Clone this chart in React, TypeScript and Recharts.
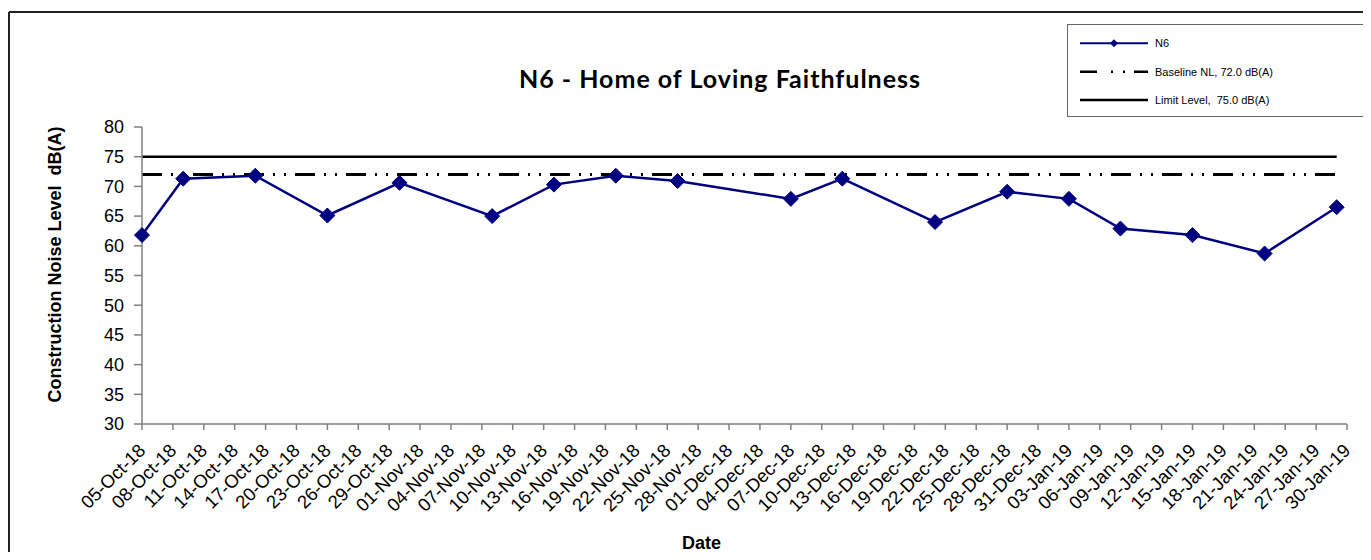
import { LineChart, Line, XAxis, YAxis } from "recharts";

// measurement dates and levels, dB(A)
const MEASURE_DATES = [
  "2018-10-05", "2018-10-09", "2018-10-16", "2018-10-23", "2018-10-30",
  "2018-11-08", "2018-11-14", "2018-11-20", "2018-11-26", "2018-12-07",
  "2018-12-12", "2018-12-21", "2018-12-28", "2019-01-03", "2019-01-08",
  "2019-01-15", "2019-01-22", "2019-01-29",
];
const N6_LEVELS = [
  61.8, 71.3, 71.8, 65.1, 70.6, 65.0, 70.3, 71.8, 70.9, 67.9,
  71.3, 64.0, 69.1, 67.9, 62.9, 61.8, 58.7, 66.5,
];
const BASELINE_LEVEL = 72.0;
const LIMIT_LEVEL = 75.0;

const X_TICK_DATES = [
  "2018-10-05", "2018-10-08", "2018-10-11", "2018-10-14", "2018-10-17",
  "2018-10-20", "2018-10-23", "2018-10-26", "2018-10-29", "2018-11-01",
  "2018-11-04", "2018-11-07", "2018-11-10", "2018-11-13", "2018-11-16",
  "2018-11-19", "2018-11-22", "2018-11-25", "2018-11-28", "2018-12-01",
  "2018-12-04", "2018-12-07", "2018-12-10", "2018-12-13", "2018-12-16",
  "2018-12-19", "2018-12-22", "2018-12-25", "2018-12-28", "2018-12-31",
  "2019-01-03", "2019-01-06", "2019-01-09", "2019-01-12", "2019-01-15",
  "2019-01-18", "2019-01-21", "2019-01-24", "2019-01-27", "2019-01-30",
];
const Y_TICKS = [30, 35, 40, 45, 50, 55, 60, 65, 70, 75, 80];

const MONTHS = ["Jan", "Feb", "Mar", "Apr", "May", "Jun", "Jul", "Aug", "Sep", "Oct", "Nov", "Dec"];
const FONT = "'Liberation Sans', Arial, sans-serif";
const NAVY = "#000080";

const toTime = (iso: string) => {
  const [y, m, d] = iso.split("-").map(Number);
  return Date.UTC(y, m - 1, d);
};

const fmtDate = (t: number) => {
  const d = new Date(t);
  const dd = String(d.getUTCDate()).padStart(2, "0");
  const yy = String(d.getUTCFullYear() % 100).padStart(2, "0");
  return `${dd}-${MONTHS[d.getUTCMonth()]}-${yy}`;
};

const data = MEASURE_DATES.map((iso, i) => ({
  t: toTime(iso),
  n6: N6_LEVELS[i],
  baseline: BASELINE_LEVEL,
  limit: LIMIT_LEVEL,
}));
const xTicks = X_TICK_DATES.map(toTime);

function DateTick(props: any) {
  const { x, y, payload } = props;
  const ty = y + 15;
  return (
    <text
      x={x}
      y={ty}
      transform={`rotate(-45 ${x} ${ty})`}
      textAnchor="end"
      dominantBaseline="central"
      fontSize={18.5}
      fontFamily={FONT}
      fill="#000"
    >
      {fmtDate(payload.value)}
    </text>
  );
}

function Diamond(props: any) {
  const { cx, cy, index } = props;
  if (cx == null || cy == null) return <g key={`d-${index}`} />;
  const r = 7.5;
  return (
    <path
      key={`d-${index}`}
      d={`M${cx},${cy - r}L${cx + r},${cy}L${cx},${cy + r}L${cx - r},${cy}Z`}
      fill={NAVY}
      stroke={NAVY}
    />
  );
}

export default function App() {
  const W = 1355;
  const H = 544;
  return (
    <div style={{ position: "relative", width: W, height: H, fontFamily: FONT }}>
      <LineChart
        width={W}
        height={H}
        data={data}
        margin={{ top: 119, right: 16, bottom: 0, left: 0 }}
      >
        <XAxis
          dataKey="t"
          type="number"
          domain={[xTicks[0], xTicks[xTicks.length - 1]]}
          ticks={xTicks}
          interval={0}
          height={128}
          tick={<DateTick />}
          tickSize={6}
          axisLine={{ stroke: "#808080", strokeWidth: 1.5 }}
          tickLine={{ stroke: "#808080", strokeWidth: 1.5 }}
          label={(p: any) => {
            const vb = p.viewBox || { x: 134, y: 416, width: 1205, height: 128 };
            return (
              <text
                x={vb.x + vb.width / 2 - 43}
                y={vb.y + 125}
                textAnchor="middle"
                fontSize={18}
                fontWeight="bold"
                fontFamily={FONT}
                fill="#000"
              >
                Date
              </text>
            );
          }}
        />
        <YAxis
          type="number"
          domain={[30, 80]}
          ticks={Y_TICKS}
          interval={0}
          width={134}
          tickSize={8}
          tickMargin={10}
          tick={{ fontSize: 18, fill: "#000", fontFamily: FONT }}
          axisLine={{ stroke: "#808080", strokeWidth: 1.5 }}
          tickLine={{ stroke: "#808080", strokeWidth: 1.5 }}
          label={(p: any) => {
            const vb = p.viewBox || { x: 0, y: 119, width: 134, height: 297 };
            const cx = vb.x + 47;
            const cy = vb.y + vb.height / 2 - 11;
            return (
              <text
                x={cx}
                y={cy}
                transform={`rotate(-90 ${cx} ${cy})`}
                textAnchor="middle"
                dominantBaseline="central"
                fontSize={18}
                fontWeight="bold"
                fontFamily={FONT}
                fill="#000"
                style={{ whiteSpace: "pre" }}
              >
                Construction Noise Level  dB(A)
              </text>
            );
          }}
        />
        <Line
          dataKey="limit"
          stroke="#000"
          strokeWidth={2.5}
          dot={false}
          activeDot={false}
          isAnimationActive={false}
        />
        <Line
          dataKey="baseline"
          stroke="#000"
          strokeWidth={3}
          strokeDasharray="20 9 2 9 2 9"
          dot={false}
          activeDot={false}
          isAnimationActive={false}
        />
        <Line
          dataKey="n6"
          stroke={NAVY}
          strokeWidth={2.5}
          dot={<Diamond />}
          activeDot={false}
          isAnimationActive={false}
        />
      </LineChart>

      <svg
        width={W}
        height={H}
        style={{ position: "absolute", left: 0, top: 0, pointerEvents: "none" }}
      >
        {/* chart frame, only top and left edges are in view */}
        <line x1={1} y1={4} x2={W} y2={4} stroke="#222" strokeWidth={2} />
        <line x1={1} y1={4} x2={1} y2={H} stroke="#222" strokeWidth={2} />

        <text
          x={712}
          y={80}
          textAnchor="middle"
          fontSize={25}
          fontWeight="bold"
          letterSpacing={1}
          fontFamily="Lato, 'Open Sans', sans-serif"
          fill="#000"
        >
          N6 - Home of Loving Faithfulness
        </text>

        {/* legend */}
        <rect x={1059.5} y={16.5} width={297} height={92} fill="#fff" stroke="#666" strokeWidth={1} />
        <line x1={1072} y1={35.3} x2={1140} y2={35.3} stroke={NAVY} strokeWidth={2} />
        <path d="M1106,31.3L1110,35.3L1106,39.3L1102,35.3Z" fill={NAVY} />
        <text x={1147} y={35.3} fontSize={11} fontFamily={FONT} dominantBaseline="central" fill="#000">
          N6
        </text>
        <line
          x1={1072}
          y1={63.7}
          x2={1140}
          y2={63.7}
          stroke="#000"
          strokeWidth={2.5}
          strokeDasharray="17 14 2 10 2 9 15"
        />
        <text x={1147} y={63.7} fontSize={11} fontFamily={FONT} dominantBaseline="central" fill="#000">
          Baseline NL, 72.0 dB(A)
        </text>
        <line x1={1072} y1={92} x2={1140} y2={92} stroke="#000" strokeWidth={2.5} />
        <text
          x={1147}
          y={92}
          fontSize={11}
          fontFamily={FONT}
          dominantBaseline="central"
          fill="#000"
          style={{ whiteSpace: "pre" }}
        >
          Limit Level,  75.0 dB(A)
        </text>
      </svg>
    </div>
  );
}
